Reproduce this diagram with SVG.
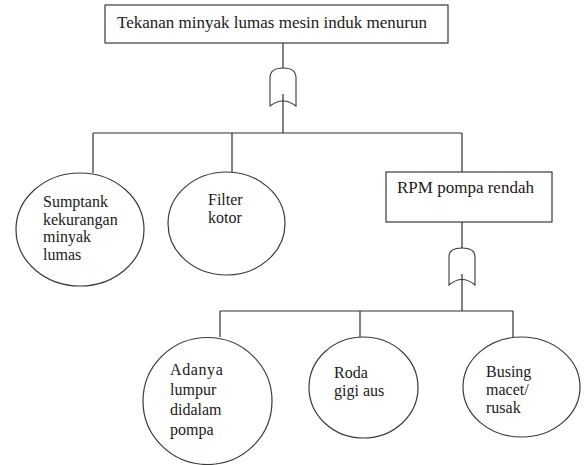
<svg xmlns="http://www.w3.org/2000/svg" width="584" height="465" viewBox="0 0 584 465">
  <style>
    .box { fill: #ffffff; stroke: #3a3a3a; stroke-width: 1.2; }
    .event { fill: #ffffff; stroke: #3a3a3a; stroke-width: 1.2; }
    .gate { fill: #ffffff; stroke: #3a3a3a; stroke-width: 1.1; }
    .wire { fill: none; stroke: #2e2e2e; stroke-width: 1.2; }
    .t17 { font-family: "Liberation Serif", "Times New Roman", serif; font-size: 17px; fill: #1a1a1a; }
    .t16 { font-family: "Liberation Serif", "Times New Roman", serif; font-size: 16px; fill: #1a1a1a; }
  </style>
  <rect width="584" height="465" fill="#ffffff"/>

  <!-- OR gates (drawn first so the output wires show inside them) -->
  <g id="gate-top">
    <path class="gate" d="M270,106 V78 Q270,68 283,68 Q296,68 296,78 V106 Q283,96 270,106 Z"/>
  </g>
  <g id="gate-rpm">
    <path class="gate" d="M449,285 V257 Q449,248 462,248 Q475,248 475,257 V285 Q462,274 449,285 Z"/>
  </g>

  <!-- connectors -->
  <g id="connectors">
    <path class="wire" d="M283,43 V68"/>
    <path class="wire" d="M283,94 V133"/>
    <path class="wire" d="M93,133 H462"/>
    <path class="wire" d="M93,133 V173"/>
    <path class="wire" d="M232,133 V172"/>
    <path class="wire" d="M462,133 V172"/>
    <path class="wire" d="M462,222 V248"/>
    <path class="wire" d="M462,274 V311"/>
    <path class="wire" d="M220,311 H513"/>
    <path class="wire" d="M220,311 V337"/>
    <path class="wire" d="M360,311 V337"/>
    <path class="wire" d="M513,311 V337"/>
  </g>

  <g id="top-event">
    <rect class="box" x="105" y="5" width="343" height="38"/>
    <text class="t17" x="117" y="28">Tekanan minyak lumas mesin induk menurun</text>
  </g>

  <g id="sumptank">
    <ellipse class="event" cx="80" cy="229.5" rx="64" ry="56.5"/>
    <text class="t16" x="43" y="207">Sumptank</text>
    <text class="t16" x="43" y="225">kekurangan</text>
    <text class="t16" x="43" y="242">minyak</text>
    <text class="t16" x="43" y="260">lumas</text>
  </g>

  <g id="filter">
    <ellipse class="event" cx="226.5" cy="223.5" rx="58.5" ry="51.5"/>
    <text class="t16" x="208" y="205">Filter</text>
    <text class="t16" x="208" y="223">kotor</text>
  </g>

  <g id="rpm">
    <rect class="box" x="386" y="172" width="166" height="50"/>
    <text class="t17" x="397" y="193">RPM pompa rendah</text>
  </g>

  <g id="lumpur">
    <ellipse class="event" cx="207.5" cy="401" rx="64.5" ry="63.5"/>
    <text class="t16" x="170" y="375" letter-spacing="0.6">Adanya</text>
    <text class="t16" x="170" y="395">lumpur</text>
    <text class="t16" x="170" y="415">didalam</text>
    <text class="t16" x="170" y="435">pompa</text>
  </g>

  <g id="roda">
    <ellipse class="event" cx="363.5" cy="387.5" rx="54.5" ry="50.5"/>
    <text class="t16" x="334" y="378">Roda</text>
    <text class="t16" x="334" y="396">gigi aus</text>
  </g>

  <g id="busing">
    <ellipse class="event" cx="521.5" cy="387" rx="58.5" ry="50"/>
    <text class="t16" x="486" y="377">Busing</text>
    <text class="t16" x="486" y="395">macet/</text>
    <text class="t16" x="486" y="413">rusak</text>
  </g>
</svg>
